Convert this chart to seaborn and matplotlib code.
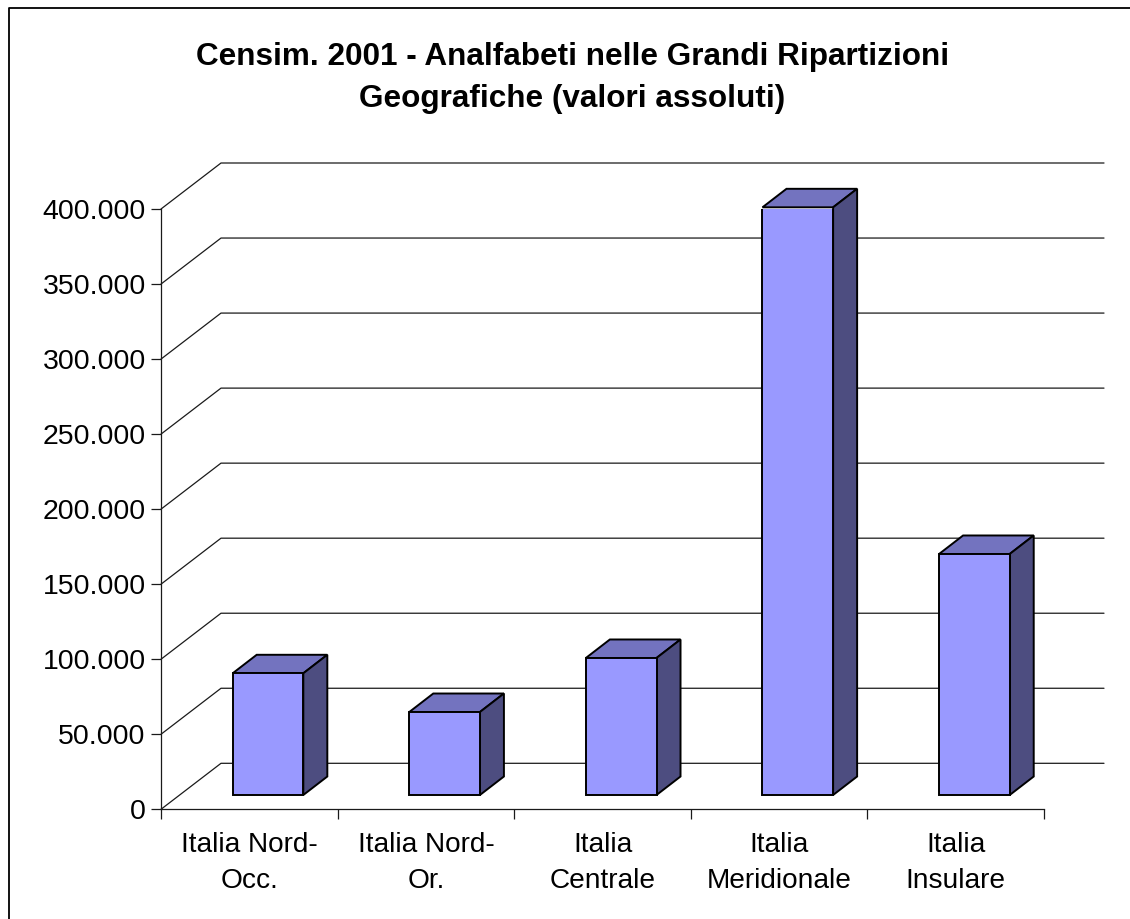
import numpy as np
import pandas as pd
import seaborn as sns
import matplotlib.pyplot as plt
from matplotlib.lines import Line2D
from matplotlib.patches import Polygon

title = "Censim. 2001 - Analfabeti nelle Grandi Ripartizioni\nGeografiche (valori assoluti)"
categories = ["Italia Nord-\nOcc.", "Italia Nord-\nOr.", "Italia\nCentrale", "Italia\nMeridionale", "Italia\nInsulare"]
values = [81100, 55300, 91300, 391600, 160600]
y_ticks = [0, 50000, 100000, 150000, 200000, 250000, 300000, 350000, 400000]
y_labels = ["0", "50.000", "100.000", "150.000", "200.000", "250.000", "300.000", "350.000", "400.000"]

W, H = 1130, 919
FRONT, TOP, SIDE = "#9999FF", "#7373BF", "#4D4D80"
LINE = "#1a1a1a"

sns.set_theme(style="white")
plt.rcParams["font.family"] = ["Liberation Sans", "DejaVu Sans"]

fig = plt.figure(figsize=(W / 100, H / 100), dpi=100)
ax = fig.add_axes([161 / W, 1 - 809.3 / H, (1044 - 161) / W, 600.3 / H])

df = pd.DataFrame({"area": categories, "analfabeti": values})
sns.barplot(data=df, x="area", y="analfabeti", color=FRONT, saturation=1, width=0.4,
            edgecolor="black", linewidth=1.4, ax=ax, zorder=4)
ax.set_xlim(-0.5, 4.5)
ax.set_ylim(0, 400000)

# one pixel in data units, the fake 3D depth is worked out from these
px_x = 5 / (1044 - 161)
px_y = 400000 / 600.3
wall_dx, wall_dy = 60 * px_x, 46 * px_y
bar_dx, bar_dy = 24 * px_x, 18.5 * px_y
shift_x, shift_y = 18.7 * px_x, 14.3 * px_y

# back wall lines and the slanted floor/side lines
for v in y_ticks:
    ax.add_line(Line2D([-0.5, -0.5 + wall_dx, 4.5 + wall_dx], [v, v + wall_dy, v + wall_dy],
                       color=LINE, lw=0.9, clip_on=False, zorder=1))

# move bars inside the box and add top and side faces
for p in ax.patches:
    p.set_x(p.get_x() + shift_x)
    p.set_y(shift_y)
    p.set_joinstyle("miter")
    x0, x1 = p.get_x(), p.get_x() + p.get_width()
    y0, y1 = p.get_y(), p.get_y() + p.get_height()
    top = [(x0, y1), (x1, y1), (x1 + bar_dx, y1 + bar_dy), (x0 + bar_dx, y1 + bar_dy)]
    side = [(x1, y0), (x1 + bar_dx, y0 + bar_dy), (x1 + bar_dx, y1 + bar_dy), (x1, y1)]
    for pts, col in ((top, TOP), (side, SIDE)):
        ax.add_patch(Polygon(pts, closed=True, facecolor=col, edgecolor="black", lw=1.4,
                             joinstyle="miter", clip_on=False, zorder=3))

sns.despine(ax=ax)
for s in ("left", "bottom"):
    ax.spines[s].set_color(LINE)
    ax.spines[s].set_linewidth(0.9)

ax.set_xlabel("")
ax.set_ylabel("")
ax.set_yticks(y_ticks, y_labels)
ax.tick_params(axis="y", left=True, length=7, width=0.9, color=LINE, pad=4, labelsize=20.5, labelcolor="black")

# ticks sit on the category edges, labels in between
ax.set_xticks(np.arange(-0.5, 5), [""] * 6)
ax.set_xticks(np.arange(5), categories, minor=True)
ax.tick_params(axis="x", which="major", bottom=True, length=7, width=0.9, color=LINE)
ax.tick_params(axis="x", which="minor", bottom=False, length=0, pad=16, labelsize=20.2, labelcolor="black")
for t in ax.get_xticklabels(minor=True):
    t.set_linespacing(1.5)

fig.text(572.5 / W, 1 - 78 / H, title, ha="center", va="center", fontsize=22.7, fontweight="bold",
         color="black", linespacing=1.5)

# chart frame only shows on the left and top
fig.add_artist(Line2D([8.5 / W, 8.5 / W, 1], [0, 1 - 7.5 / H, 1 - 7.5 / H], color="black", lw=1.3))

fig.savefig("out.png", dpi=100)
